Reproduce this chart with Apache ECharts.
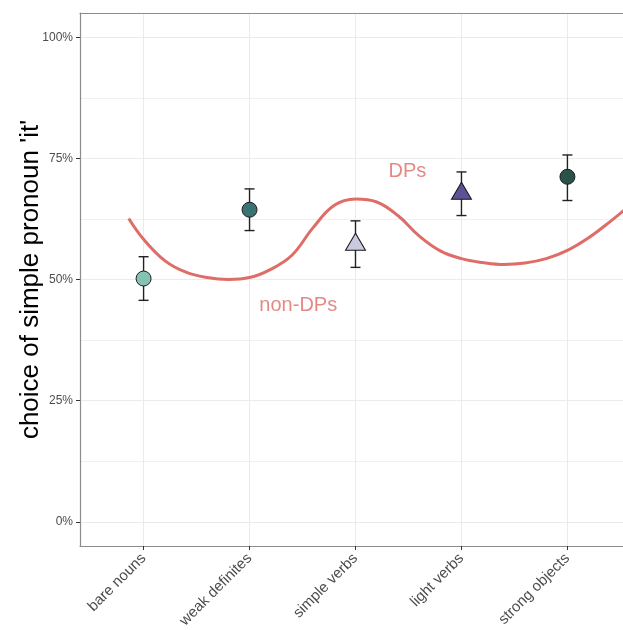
<!DOCTYPE html>
<html>
<head>
<meta charset="utf-8">
<script src="https://cdn.jsdelivr.net/npm/echarts@6/dist/echarts.min.js"></script>
<style>html,body{margin:0;padding:0;background:#fff}#c{width:623px;height:630px}</style>
</head>
<body>
<div id="c"></div>
<script>
const categories = ['bare nouns', 'weak definites', 'simple verbs', 'light verbs', 'strong objects'];
const means = [50.2, 64.4, 57.8, 68.3, 71.2];
const lower = [45.7, 60.1, 52.5, 63.2, 66.3];
const upper = [54.7, 68.7, 62.1, 72.2, 75.7];
const fills = ['#86c2b3', '#3a7472', '#c9c9e0', '#5c5397', '#2a5249'];
const shapes = ['circle', 'circle', 'triangle', 'triangle', 'circle'];
const yTicks = [0, 25, 50, 75, 100];
const yMinor = [12.5, 37.5, 62.5, 87.5];
const xTicks = [0, 1, 2, 3, 4];
const curve = [[-0.14, 62.6], [0.0, 58.3], [0.2, 53.9], [0.4, 51.5], [0.6, 50.4], [0.8, 50.0],
  [1.0, 50.4], [1.2, 52.1], [1.4, 55.0], [1.6, 60.7], [1.8, 65.3], [2.0, 66.6], [2.2, 66.0],
  [2.4, 63.2], [2.6, 59.0], [2.8, 55.9], [3.0, 54.3], [3.2, 53.5], [3.4, 53.1], [3.6, 53.4],
  [3.8, 54.3], [4.0, 56.0], [4.2, 58.6], [4.4, 61.9], [4.6, 65.5]];
const notes = [{ name: 'DPs', value: [2.49, 72.2] }, { name: 'non-DPs', value: [1.46, 44.6] }];

const FONT = '"Liberation Sans", Arial, Helvetica, sans-serif';
const RED = '#df6c67';
const chart = echarts.init(document.getElementById('c'));
chart.setOption({
  animation: false,
  textStyle: { fontFamily: FONT },
  grid: { left: 80, top: 13, width: 551, height: 533, containLabel: false, outerBoundsMode: 'none' },
  xAxis: [{
    type: 'value', min: -0.6, max: 4.6, position: 'bottom',
    axisLine: { show: true, onZero: false, lineStyle: { color: '#8c8c8c', width: 1.2 } },
    axisTick: { show: true, customValues: xTicks, length: 4, lineStyle: { color: '#333' } },
    axisLabel: { customValues: xTicks, formatter: v => categories[Math.round(v)], rotate: 45,
      fontSize: 15, color: '#4d4d4d', margin: 10, fontFamily: FONT },
    splitLine: { show: true, customValues: xTicks, lineStyle: { color: '#ebebeb', width: 1 } }
  }, {
    type: 'value', min: -0.6, max: 4.6, position: 'top',
    axisLine: { show: true, onZero: false, lineStyle: { color: '#8c8c8c', width: 1.2 } },
    axisTick: { show: false }, axisLabel: { show: false }, splitLine: { show: false }
  }],
  yAxis: [{
    type: 'value', min: -5, max: 105, position: 'left',
    name: "choice of simple pronoun 'it'", nameLocation: 'middle', nameGap: 36, nameMoveOverlap: false,
    nameTextStyle: { fontSize: 26, color: '#000', fontFamily: FONT },
    axisLine: { show: true, onZero: false, lineStyle: { color: '#8c8c8c', width: 1.2 } },
    axisTick: { show: true, customValues: yTicks, length: 4, lineStyle: { color: '#333' } },
    axisLabel: { customValues: yTicks, formatter: v => v + '%', fontSize: 12, color: '#4d4d4d', margin: 7, fontFamily: FONT },
    splitLine: { show: true, customValues: yTicks, lineStyle: { color: '#ebebeb', width: 1 } }
  }, {
    type: 'value', min: -5, max: 105, position: 'left',
    axisLine: { show: false }, axisLabel: { show: false, customValues: yMinor },
    axisTick: { show: false, customValues: yMinor },
    splitLine: { show: true, customValues: yMinor, lineStyle: { color: '#f0f0f0', width: 1 } }
  }],
  series: [{
    type: 'line', data: curve, smooth: 0.4, showSymbol: false, z: 2,
    lineStyle: { color: RED, width: 3 }, silent: true
  }, {
    type: 'custom', z: 3,
    data: categories.map((c, i) => [i, lower[i], upper[i]]),
    renderItem: function (params, api) {
      const x = api.value(0);
      const lo = api.coord([x, api.value(1)]);
      const hi = api.coord([x, api.value(2)]);
      const w = 5;
      const st = { stroke: '#222', lineWidth: 1.4 };
      return { type: 'group', children: [
        { type: 'line', shape: { x1: lo[0], y1: lo[1], x2: hi[0], y2: hi[1] }, style: st },
        { type: 'line', shape: { x1: lo[0] - w, y1: lo[1], x2: lo[0] + w, y2: lo[1] }, style: st },
        { type: 'line', shape: { x1: hi[0] - w, y1: hi[1], x2: hi[0] + w, y2: hi[1] }, style: st }
      ] };
    }
  }, {
    type: 'scatter', z: 4,
    data: categories.map((c, i) => ({
      value: [i, means[i]], symbol: shapes[i],
      symbolSize: shapes[i] === 'triangle' ? [20, 17] : 15,
      itemStyle: { color: fills[i], opacity: 1, borderColor: '#1a1a1a', borderWidth: 1 }
    }))
  }, {
    type: 'scatter', z: 5, symbolSize: 0, silent: true,
    data: notes,
    label: { show: true, position: 'inside', formatter: p => p.name, fontSize: 20, color: '#de6b66', fontFamily: FONT }
  }]
});
</script>
</body>
</html>
